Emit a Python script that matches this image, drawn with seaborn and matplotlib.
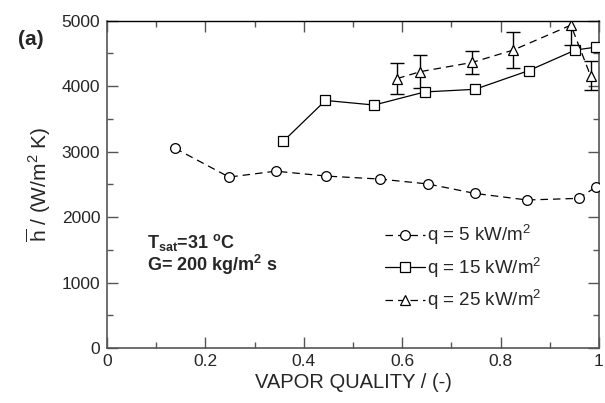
import matplotlib
matplotlib.use('Agg')
import matplotlib.pyplot as plt
from matplotlib.ticker import MultipleLocator
import seaborn as sns
import pandas as pd

# data
x_q5 = [0.138, 0.248, 0.343, 0.446, 0.554, 0.652, 0.748, 0.854, 0.959, 0.994]
h_q5 = [3050, 2610, 2700, 2625, 2580, 2505, 2360, 2260, 2285, 2460]

x_q15 = [0.358, 0.444, 0.543, 0.646, 0.748, 0.857, 0.952, 0.995]
h_q15 = [3155, 3780, 3710, 3910, 3950, 4235, 4550, 4595]

x_q25 = [0.590, 0.637, 0.742, 0.826, 0.943, 0.983]
h_q25 = [4115, 4220, 4360, 4550, 4930, 4155]
err_q25 = [240, 250, 180, 280, 310, 220]

labels = ['q = 5 kW/m$^2$', 'q = 15 kW/m$^2$', 'q = 25 kW/m$^2$']

sns.set_theme(style='ticks')
plt.rcParams['font.family'] = ['Liberation Sans', 'DejaVu Sans']
plt.rcParams['mathtext.fontset'] = 'custom'
plt.rcParams['mathtext.rm'] = 'Liberation Sans'
plt.rcParams['mathtext.it'] = 'Liberation Sans:italic'
plt.rcParams['mathtext.bf'] = 'Liberation Sans:bold'

fig = plt.figure(figsize=(6.05, 4.03), dpi=100)
ax = fig.add_axes([0.177, 0.1365, 0.813, 0.8125])

df5 = pd.DataFrame({'x': x_q5, 'h': h_q5})
df15 = pd.DataFrame({'x': x_q15, 'h': h_q15})
df25 = pd.DataFrame({'x': x_q25, 'h': h_q25})

ax.errorbar(x_q25, h_q25, yerr=err_q25, fmt='none', ecolor='black',
            elinewidth=1, capsize=5, capthick=1, zorder=2)

sns.lineplot(data=df5, x='x', y='h', ax=ax, sort=False, color='black', lw=0.9,
             marker='o', markersize=7, markerfacecolor='white', markeredgecolor='black',
             markeredgewidth=0.9, linestyle=(0, (6, 4)), label=labels[0], zorder=3)
sns.lineplot(data=df15, x='x', y='h', ax=ax, sort=False, color='black', lw=0.9,
             marker='s', markersize=7.5, markerfacecolor='white', markeredgecolor='black',
             markeredgewidth=0.9, linestyle='-', label=labels[1], zorder=3)
sns.lineplot(data=df25, x='x', y='h', ax=ax, sort=False, color='black', lw=0.9,
             marker='^', markersize=7, markerfacecolor='white', markeredgecolor='black',
             markeredgewidth=0.9, linestyle=(0, (6, 4)), label=labels[2], zorder=3)

ax.set_xlim(0, 1)
ax.set_ylim(0, 5000)
ax.set_xticks([0, 0.2, 0.4, 0.6, 0.8, 1.0])
ax.set_xticklabels(['0', '0.2', '0.4', '0.6', '0.8', '1'])
ax.xaxis.set_minor_locator(MultipleLocator(0.1))
ax.yaxis.set_major_locator(MultipleLocator(1000))
ax.yaxis.set_minor_locator(MultipleLocator(500))
ax.tick_params(which='both', direction='in', top=True, right=True, labelsize=12.5,
               color='#555555')
ax.tick_params(axis='x', pad=4)
ax.tick_params(axis='y', pad=5)
ax.tick_params(which='major', length=8, width=1)
ax.tick_params(which='minor', length=4, width=1)
for s in ax.spines.values():
    s.set_color('#555555')
    s.set_linewidth(1.2)
ax.spines['top'].set_color('black')
ax.spines['top'].set_linewidth(1)

ax.set_xlabel('VAPOR QUALITY / (-)', fontsize=14.5, labelpad=3)
ax.set_ylabel(r'$\overline{\mathrm{h}}$ / (W/m$^2$ K)', fontsize=15, labelpad=6)

# conditions, one text block
ax.text(0.081, 0.353,
        'T$_{\\mathbf{sat}}$=31 $^{\\mathbf{o}}$C\nG= 200 kg/m$^{\\mathbf{2}}$ s',
        transform=ax.transAxes, fontsize=13, fontweight='bold',
        ha='left', va='top', linespacing=0.95)
fig.text(0.030, 0.902, '(a)', fontsize=15, fontweight='bold', va='center')

leg = ax.legend(loc='center left', bbox_to_anchor=(0.566, 0.245), frameon=False,
                fontsize=13.5, handlelength=2.1, handletextpad=0.1, labelspacing=0.45,
                borderpad=0, borderaxespad=0)

fig.savefig('out.png', dpi=100)
